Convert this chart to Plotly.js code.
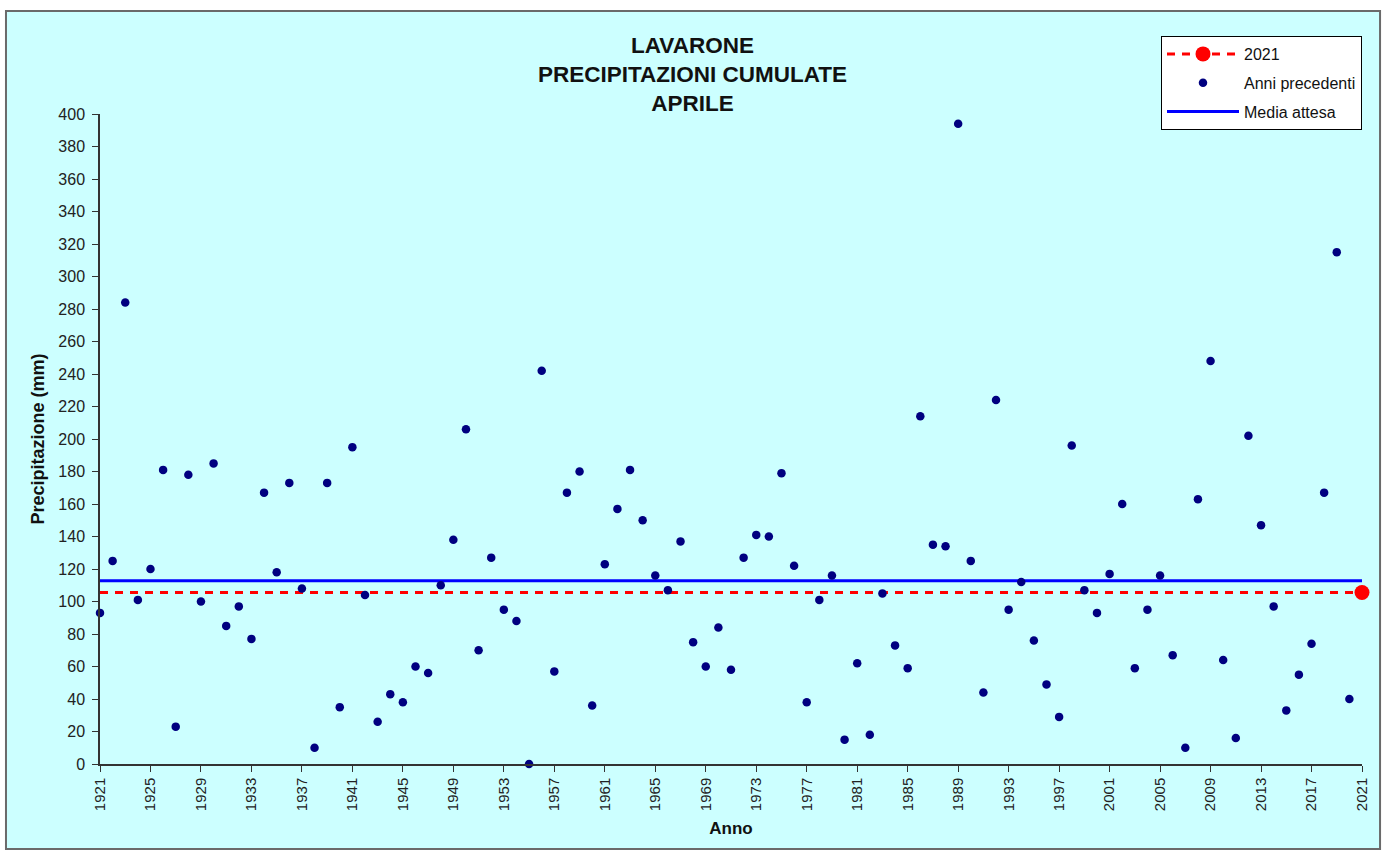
<!DOCTYPE html>
<html>
<head>
<meta charset="utf-8">
<script src="https://cdn.plot.ly/plotly-3.0.1.min.js"></script>
<style>
  html, body { margin: 0; padding: 0; background: #ffffff; }
  #chart { width: 1385px; height: 850px; }
</style>
</head>
<body>
<div id="chart"></div>
<script>
// ---- Data ----
const years = [1921,1922,1923,1924,1925,1926,1927,1928,1929,1930,
               1931,1932,1933,1934,1935,1936,1937,1938,1939,1940,
               1941,1942,1943,1944,1945,1946,1947,1948,1949,1950,
               1951,1952,1953,1954,1955,1956,1957,1958,1959,1960,
               1961,1962,1963,1964,1965,1966,1967,1968,1969,1970,
               1971,1972,1973,1974,1975,1976,1977,1978,1979,1980,
               1981,1982,1983,1984,1985,1986,1987,1988,1989,1990,
               1991,1992,1993,1994,1995,1996,1997,1998,1999,2000,
               2001,2002,2003,2004,2005,2006,2007,2008,2009,2010,
               2011,2012,2013,2014,2015,2016,2017,2018,2019,2020];
const precip = [93,125,284,101,120,181,23,178,100,185,
                85,97,77,167,118,173,108,10,173,35,
                195,104,26,43,38,60,56,110,138,206,
                70,127,95,88,0,242,57,167,180,36,
                123,157,181,150,116,107,137,75,60,84,
                58,127,141,140,179,122,38,101,116,15,
                62,18,105,73,59,214,135,134,394,125,
                44,224,95,112,76,49,29,196,107,93,
                117,160,59,95,116,67,10,163,248,64,
                16,202,147,97,33,55,74,167,315,40];
const currentYear = 2021;
const currentValue = 105.5;
const meanValue = 112.8;
const firstYear = 1921;
const tickYears = [1921,1925,1929,1933,1937,1941,1945,1949,1953,1957,1961,1965,
                   1969,1973,1977,1981,1985,1989,1993,1997,2001,2005,2009,2013,2017,2021];

const FONT = 'Arial, "Liberation Sans", sans-serif';

const traces = [
  { // dashed reference line at the 2021 value (no legend)
    x: [firstYear, currentYear], y: [currentValue, currentValue],
    mode: 'lines', type: 'scatter',
    line: { color: '#FF0000', width: 3, dash: '8px,7px' },
    showlegend: false, hoverinfo: 'skip'
  },
  { // mean line
    x: [firstYear, currentYear], y: [meanValue, meanValue],
    mode: 'lines', type: 'scatter', name: 'Media attesa',
    legendgroup: 'c', legendrank: 3,
    line: { color: '#0000FF', width: 3 }
  },
  { // previous years
    x: years, y: precip, mode: 'markers', type: 'scatter',
    name: 'Anni precedenti', legendgroup: 'b', legendrank: 2,
    marker: { color: '#000080', size: 8.5 },
    cliponaxis: false
  },
  { // 2021
    x: [currentYear], y: [currentValue], mode: 'lines+markers', type: 'scatter',
    name: String(currentYear), legendgroup: 'a', legendrank: 1,
    line: { color: '#FF0000', width: 3, dash: '8px,7px' },
    marker: { color: '#FF0000', size: 15 },
    cliponaxis: false
  }
];

const layout = {
  width: 1385, height: 850,
  margin: { l: 100, r: 23, t: 114, b: 86 },
  paper_bgcolor: '#ffffff',
  plot_bgcolor: 'rgba(0,0,0,0)',
  font: { family: FONT, color: '#222222', size: 16 },
  title: {
    text: '<b>LAVARONE</b><br><b>PRECIPITAZIONI CUMULATE</b><br><b>APRILE</b>',
    font: { family: FONT, size: 22.5, color: '#111111' },
    x: 0.5, xref: 'container', xanchor: 'center',
    y: 0.938, yref: 'container', yanchor: 'top'
  },
  xaxis: {
    range: [firstYear, currentYear],
    tickmode: 'array', tickvals: tickYears, ticktext: tickYears.map(String),
    tickangle: -90,
    ticks: 'outside', ticklen: 6, tickcolor: '#333333', tickwidth: 1,
    showline: true, linecolor: '#333333', linewidth: 1.5,
    showgrid: false, zeroline: false,
    tickfont: { family: FONT, size: 15, color: '#222222' },
    title: { text: '<b>Anno</b>', font: { family: FONT, size: 17, color: '#111111' }, standoff: 12 }
  },
  yaxis: {
    range: [0, 400], dtick: 20, tick0: 0,
    ticks: 'outside', ticklen: 6, tickcolor: '#333333', tickwidth: 1,
    showline: true, linecolor: '#333333', linewidth: 1.5,
    showgrid: false, zeroline: false,
    tickfont: { family: FONT, size: 16, color: '#222222' },
    ticklabelstandoff: 4,
    title: { text: '<b>Precipitazione (mm)</b>', font: { family: FONT, size: 18, color: '#111111' }, standoff: 9 }
  },
  legend: {
    x: 1.0, xref: 'paper', xanchor: 'right',
    y: 1.12, yref: 'paper', yanchor: 'top',
    bgcolor: '#ffffff', bordercolor: '#000000', borderwidth: 1,
    font: { family: FONT, size: 16, color: '#111111' },
    traceorder: 'grouped', tracegroupgap: 5, itemwidth: 72
  },
  shapes: [{
    type: 'rect', xref: 'paper', yref: 'paper', layer: 'below',
    x0: -0.0745, x1: 1.0143, y0: -0.1308, y1: 1.1585,
    fillcolor: '#CCFFFF', line: { color: '#6a6a6a', width: 2 }
  }]
};

Plotly.newPlot('chart', traces, layout, { displayModeBar: false, responsive: false });
</script>
</body>
</html>
